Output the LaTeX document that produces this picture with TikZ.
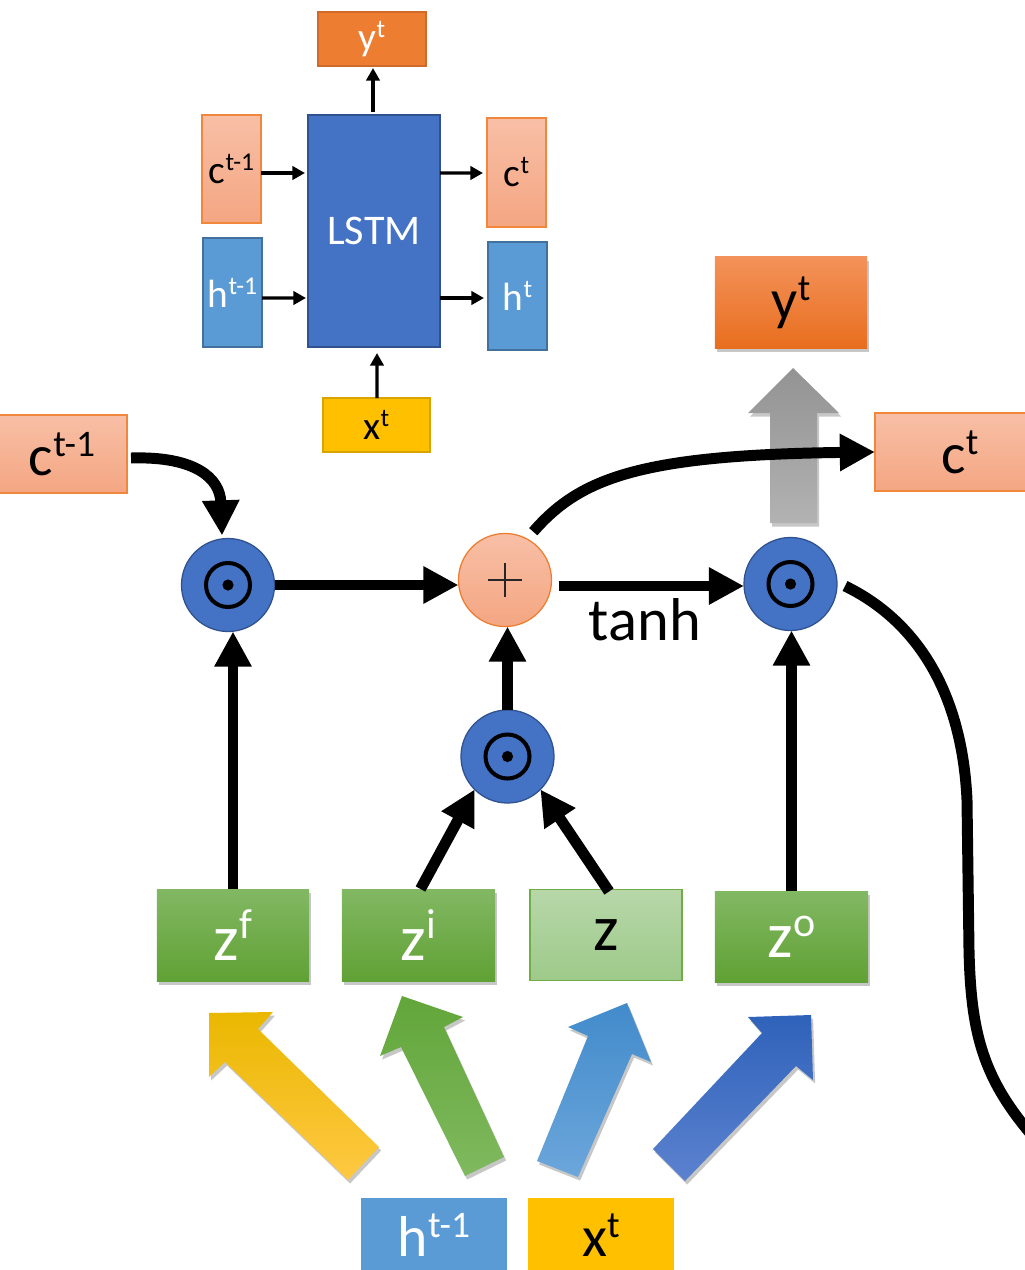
\documentclass[tikz,border=0pt]{standalone}
\usepackage{fontspec}
\setmainfont{Carlito}
\usepackage{graphicx}
\usetikzlibrary{arrows.meta,calc,shadows}
\newcommand\supt[1]{\raisebox{0.33em}{\scalebox{0.65}{#1}}}
\definecolor{lstmblue}{HTML}{4472C4}
\definecolor{lstmedge}{HTML}{2F528F}
\definecolor{hblue}{HTML}{5B9BD5}
\definecolor{hedge}{HTML}{41719C}
\definecolor{xyel}{HTML}{FFC000}
\definecolor{xedge}{HTML}{D9A400}
\definecolor{yor}{HTML}{ED7D31}
\definecolor{yedge}{HTML}{D0692A}
\definecolor{salt}{HTML}{F8BFA6}
\definecolor{salb}{HTML}{F4A682}
\definecolor{saledge}{HTML}{F0873C}
\definecolor{gtop}{HTML}{82B863}
\definecolor{gbot}{HTML}{60A134}
\definecolor{lgtop}{HTML}{B7D7A9}
\definecolor{lgbot}{HTML}{9ECA8A}
\definecolor{lgedge}{HTML}{70AD47}
\definecolor{ytop}{HTML}{F3925A}
\definecolor{ybot}{HTML}{E86E1E}
\definecolor{graytop}{HTML}{939393}
\definecolor{graybot}{HTML}{B2B2B2}
\definecolor{yeltop}{HTML}{EAB800}
\definecolor{yelbot}{HTML}{FFC843}
\definecolor{grntop}{HTML}{62A63A}
\definecolor{grnbot}{HTML}{80B95F}
\definecolor{lbtop}{HTML}{428BCB}
\definecolor{lbbot}{HTML}{6CA6DB}
\definecolor{dbtop}{HTML}{2F62BA}
\definecolor{dbbot}{HTML}{5C82CF}
\begin{document}
\begin{tikzpicture}[x=0.025cm,y=-0.025cm,
  bx/.style={rectangle,inner sep=0pt,outer sep=0pt},
  sfont/.style={font=\fontsize{28}{32}\selectfont},
  bfont/.style={font=\fontsize{41}{46}\selectfont},
  zfont/.style={font=\fontsize{46}{50}\selectfont},
  salmon/.style={top color=salt,bottom color=salb,draw=saledge,line width=0.9pt},
  hbox/.style={fill=hblue,draw=hedge,line width=0.8pt,text=white},
  xbox/.style={fill=xyel,draw=xedge,line width=0.8pt},
  shad/.style={drop shadow={shadow xshift=1.5pt,shadow yshift=-2.5pt,opacity=0.22,fill=black}},
  gbox/.style={top color=gtop,bottom color=gbot,text=white,shad},
  circ/.style={circle,inner sep=0pt,outer sep=0pt,minimum size=2.325cm,line width=0.9pt},
  mul/.style={circ,fill=lstmblue,draw=lstmedge},
  arr/.style={line width=7.8pt,-{Triangle[length=25pt,width=25pt]}},
  sarr/.style={line width=2.2pt,-{Triangle[length=9pt,width=9.5pt]}},
  thickline/.style={line width=7.8pt}]
\useasboundingbox (0,0) rectangle (1025,1270);
\clip (0,0) rectangle (1025,1270);

% ---------- small LSTM overview ----------
\node[bx,sfont,salmon,minimum width=1.475cm,minimum height=2.7cm] (sc1) at (231.5,169) {c\supt{t-1}};
\node[bx,sfont,hbox,minimum width=1.475cm,minimum height=2.725cm] (sh1) at (232.5,292.5) {h\supt{t-1}};
\node[bx,fill=lstmblue,draw=lstmedge,line width=0.8pt,text=white,font=\fontsize{30}{34}\selectfont,minimum width=3.3cm,minimum height=5.8cm] (lstm) at (374,231) {LSTM};
\node[bx,sfont,salmon,minimum width=1.475cm,minimum height=2.725cm] (sct) at (516.5,172.5) {c\supt{t}};
\node[bx,sfont,hbox,minimum width=1.475cm,minimum height=2.7cm] (sht) at (517.5,296) {h\supt{t}};
\node[bx,sfont,fill=yor,draw=yedge,line width=0.8pt,text=white,minimum width=2.7cm,minimum height=1.35cm] (syt) at (372,39) {y\supt{t}};
\node[bx,sfont,xbox,minimum width=2.675cm,minimum height=1.35cm] (sxt) at (376.5,425) {x\supt{t}};

\draw[sarr] ($(sc1.east)+(0,4)$) -- ($(lstm.west)+(-3,-58)$);
\draw[sarr] ($(sh1.east)+(0,5.5)$) -- ($(lstm.west)+(-2,67)$);
\draw[sarr] ($(lstm.east)+(0,-58)$) -- ($(sct.west)+(-4,0.5)$);
\draw[sarr] ($(lstm.east)+(0,67)$) -- ($(sht.west)+(-4,2)$);
\draw[sarr] ($(lstm.north)+(-1,-3)$) -- ($(syt.south)+(1,2)$);
\draw[sarr] ($(sxt.north)+(0.5,0)$) -- ($(lstm.south)+(3,6)$);

% ---------- main diagram boxes ----------
\node[bx,bfont,salmon,minimum width=3.25cm,minimum height=1.95cm] (c1) at (62,454) {c\supt{t-1}};
\node[bx,bfont,top color=ytop,bottom color=ybot,shad,minimum width=3.8cm,minimum height=2.275cm] (ytb) at (791,302.5) {y\supt{t}};
\node[bx,bfont,salmon,minimum width=4.25cm,minimum height=1.95cm] (ctb) at (960,452) {c\supt{t}};

\node[bx,zfont,gbox,minimum width=3.8cm,minimum height=2.3cm] (zf) at (233,935) {z\supt{f}};
\node[bx,zfont,gbox,minimum width=3.825cm,minimum height=2.3cm] (zi) at (418.5,935) {z\supt{i}};
\node[bx,zfont,top color=lgtop,bottom color=lgbot,draw=lgedge,line width=0.8pt,minimum width=3.8cm,minimum height=2.275cm] (z) at (606,935) {z};
\node[bx,zfont,gbox,minimum width=3.825cm,minimum height=2.275cm] (zo) at (791.5,936.5) {z\supt{o}};

\node[bx,bfont,hbox,draw=none,minimum width=3.65cm,minimum height=1.85cm] (bh) at (434,1235) {h\supt{t-1}};
\node[bx,bfont,xbox,draw=none,minimum width=3.65cm,minimum height=1.85cm] (bxt) at (601,1235) {x\supt{t}};

% ---------- block arrows ----------
\path[top color=graytop,bottom color=graybot,shad]
  (793,368) -- (839,413) -- (817,413) -- (817,523) -- (770,523) -- (770,413) -- (748,413) -- cycle;
\path[top color=yeltop,bottom color=yelbot,shad]
  (209,1013) -- (273,1012) -- (258,1029) -- (379,1147) -- (348,1180) -- (225,1062) -- (209,1077) -- cycle;
\path[top color=grntop,bottom color=grnbot,shad]
  (402,996) -- (463,1017) -- (444,1027) -- (504,1157) -- (465,1176) -- (401,1047) -- (380,1056) -- cycle;
\path[top color=lbtop,bottom color=lbbot,shad]
  (627,1003) -- (651,1062) -- (632,1054) -- (578,1177) -- (537,1161) -- (588,1036) -- (568,1027) -- cycle;
\path[top color=dbtop,bottom color=dbbot,shad]
  (811,1015) -- (813,1080) -- (796,1066) -- (685,1181) -- (653,1149) -- (762,1033) -- (748,1017) -- cycle;

% ---------- operator circles ----------
\node[mul] (fg) at (228,585) {};
\node[circ,top color=salt,bottom color=salb,draw=yor] (pl) at (505,580) {};
\node[mul] (ig) at (507.5,756.5) {};
\node[mul] (og) at (790.5,584) {};
\foreach \n in {fg,ig,og}{
  \draw[line width=2.85pt] (\n.center) circle[radius=0.55cm];
  \fill (\n.center) circle[radius=0.14cm];
}
\draw[line width=0.9pt,black!85] ($(pl.center)+(-17,0)$) -- ($(pl.center)+(17,0)$)
  ($(pl.center)+(0,-17)$) -- ($(pl.center)+(0,17)$);

\node[font=\fontsize{43}{48}\selectfont,inner sep=0pt] (tanh) at (645,620) {tanh};

% ---------- connectors ----------
\draw[arr] ($(c1.east)+(4,4)$) .. controls (195,456) and (220,478) .. ($(fg.north)+(-6,-3)$);
\draw[arr] (fg.east) -- (fg.east -| pl.west);
\draw[arr] ($(pl.east)+(7,6)$) -- ($(og.west)+(0,2)$);
\draw[arr] ($(pl.60)+(5,-8)$) .. controls (580,478) and (640,455) .. (ctb.west);
\draw[arr] (ig.north) -- (ig.north |- pl.south);
\draw[arr] ($(zi.north)+(2,0)$) -- (ig.-135);
\draw[arr] ($(z.north)+(3,2)$) -- (ig.-45);
\draw[arr] (zf.north) -- (zf.north |- fg.south);
\draw[arr] (zo.north) -- (zo.north |- og.south);
\coordinate (hout) at (1045,1150);
\draw[thickline] ($(og.east)+(8,2)$) .. controls (915,620) and (962,690) .. (967,800)
  -- (969,950) .. controls (971,1040) and (985,1085) .. (hout);
\end{tikzpicture}
\end{document}
